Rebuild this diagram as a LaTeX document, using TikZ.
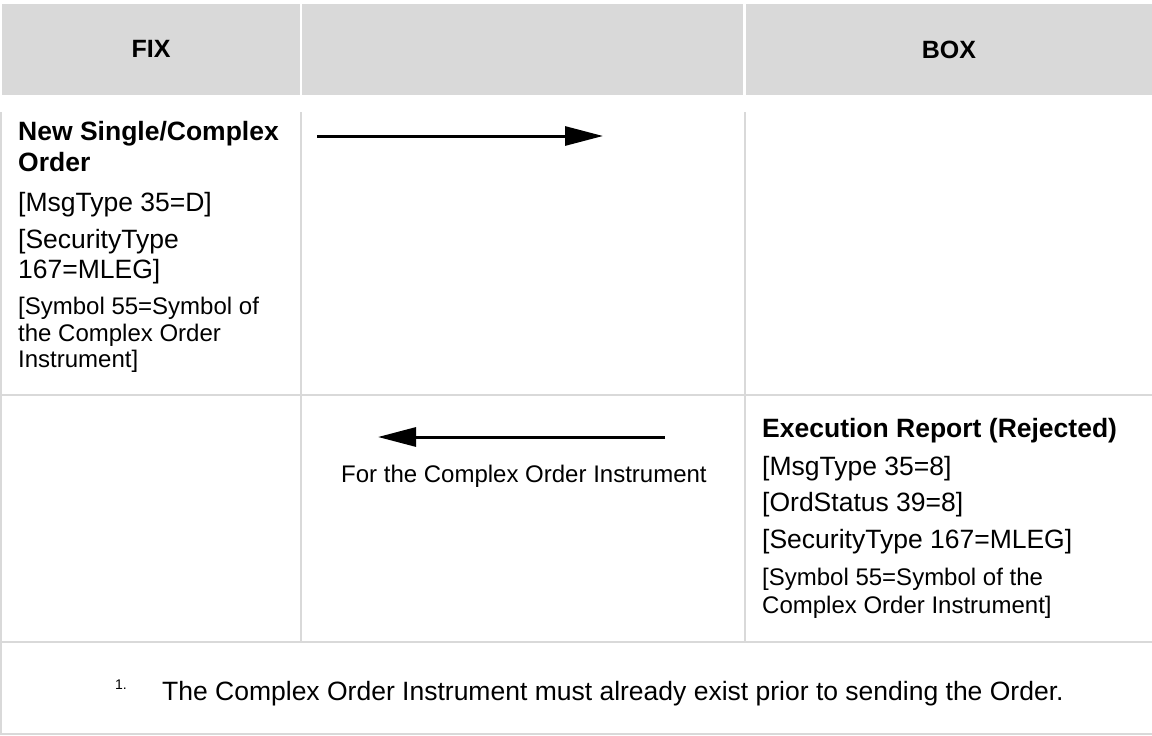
\documentclass[tikz,border=0pt]{standalone}
\usepackage{fontspec}
\setmainfont{Liberation Sans}
\usetikzlibrary{arrows.meta}
\definecolor{gridgrey}{HTML}{D9D9D9}
\definecolor{headgrey}{HTML}{D9D9D9}
\tikzset{
  x=1pt, y=-1pt,
  head/.style={fill=headgrey, draw=none},
  gridline/.style={draw=gridgrey, line width=2pt},
  txt/.style={anchor=base west, inner sep=0pt, font=\fontsize{26.5}{30}\selectfont},
  btxt/.style={anchor=base west, inner sep=0pt, font=\fontsize{26.5}{30}\selectfont\bfseries},
  stxt/.style={anchor=base west, inner sep=0pt, font=\fontsize{24}{27}\selectfont},
  htxt/.style={anchor=base, inner sep=0pt, font=\fontsize{25}{30}\selectfont\bfseries},
  msgarrow/.style={line width=3pt, -{Triangle[length=38pt,width=19pt]}},
}
\begin{document}
\begin{tikzpicture}
\useasboundingbox (0,0) rectangle (1152,736);
% header
\fill[head] (2,4) rectangle (300,95);
\fill[head] (302,4) rectangle (743,95);
\fill[head] (746,4) rectangle (1152,95);
\node[htxt] (fix) at (151,57.5) {FIX};
\node[htxt] (box) at (949,58) {BOX};
% grid
\draw[gridline] (1,112) -- (1,735);
\draw[gridline] (301,112) -- (301,642);
\draw[gridline] (745,112) -- (745,642);
\draw[gridline] (0,395) -- (1152,395);
\draw[gridline] (0,642) -- (1152,642);
\draw[gridline] (0,734) -- (1152,734);
% row 1 left
\node[btxt] (l1) at (18,140) {New Single/Complex};
\node[btxt] (l2) at (18,171) {Order};
\node[txt] (l3) at (18,211) {[MsgType 35=D]};
\node[txt] (l4) at (18,248) {[SecurityType};
\node[txt] (l5) at (18,278.5) {167=MLEG]};
\node[stxt] (l6) at (18,314) {[Symbol 55=Symbol of};
\node[stxt] (l7) at (18,341) {the Complex Order};
\node[stxt] (l8) at (18,367) {Instrument]};
% arrow 1
\coordinate (a1s) at (317,136);
\coordinate (a1e) at (603,136);
\draw[msgarrow] (a1s) -- (a1e);
% row 2 right
\node[btxt] (r1) at (762,437) {Execution Report (Rejected)};
\node[txt] (r2) at (762,475) {[MsgType 35=8]};
\node[txt] (r3) at (762,511.5) {[OrdStatus 39=8]};
\node[txt] (r4) at (762,548.5) {[SecurityType 167=MLEG]};
\node[stxt] (r5) at (762,585) {[Symbol 55=Symbol of the};
\node[stxt] (r6) at (762,613) {Complex Order Instrument]};
% arrow 2
\coordinate (a2s) at (665,437);
\coordinate (a2e) at (378,437);
\draw[msgarrow] (a2s) -- (a2e);
\node[stxt] (lab) at (341,482) {For the Complex Order Instrument};
% footer
\node[anchor=base west, inner sep=0pt, font=\fontsize{14}{16}\selectfont] (fn) at (115,689) {1.};
\node[txt] (note) at (162,700) {The Complex Order Instrument must already exist prior to sending the Order.};
\end{tikzpicture}
\end{document}
